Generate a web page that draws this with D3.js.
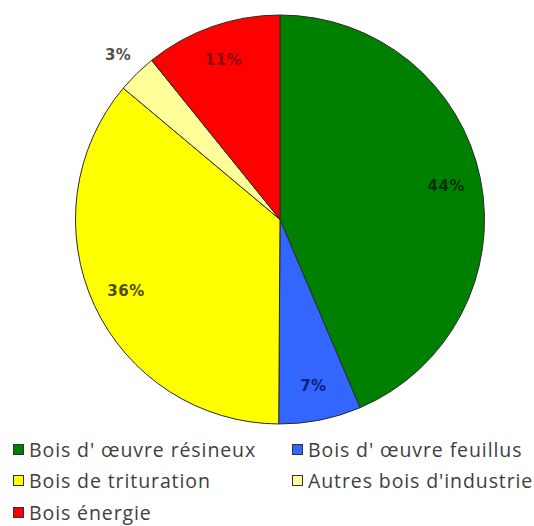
<!DOCTYPE html>
<html><head><meta charset="utf-8">
<script src="https://cdn.jsdelivr.net/npm/d3@7"></script>
<style>body{margin:0;background:#fff}svg{display:block}</style>
</head><body>
<script>
const categories = ["Bois d' œuvre résineux","Bois d' œuvre feuillus","Bois de trituration","Autres bois d'industrie","Bois énergie"];
const values = [43.6, 6.5, 36.0, 3.1, 10.8];
const colors = ["#008000","#3366ff","#ffff00","#ffff99","#ff0000"];
const labelColors = ["#003300","#0a1f80","#4d4d00","#505050","#8a0000"];

const W=534,H=526, cx=280, cy=219.5, R=204.5;
const svg=d3.select("body").append("svg").attr("width",W).attr("height",H);
const pie=d3.pie().sort(null).value(d=>d.v);
const data=categories.map((c,i)=>({c,v:values[i],i}));
const arcs=pie(data);
const arc=d3.arc().innerRadius(0).outerRadius(R);
const g=svg.append("g").attr("transform",`translate(${cx},${cy})`);
g.selectAll("path").data(arcs).join("path").attr("d",arc)
 .attr("fill",d=>colors[d.data.i]).attr("stroke","#2a2a2a").attr("stroke-width",1);
const inner=d3.arc().innerRadius(R*0.83).outerRadius(R*0.83);
const outer=d3.arc().innerRadius(R*1.13).outerRadius(R*1.13);
g.selectAll("text").data(arcs).join("text")
 .attr("transform",d=>`translate(${(d.data.v<5?outer:inner).centroid(d)})`)
 .attr("text-anchor","middle").attr("dy","0.35em")
 .attr("font-family","DejaVu Sans, sans-serif").attr("font-size",15).attr("font-weight","bold")
 .attr("letter-spacing",0.5)
 .attr("fill",d=>labelColors[d.data.i])
 .text(d=>Math.round(d.data.v)+"%");

const legPos=[[13,450],[292,450],[13,481],[292,481],[13,513]];
const lg=svg.append("g");
categories.forEach((c,i)=>{
  const [x,y]=legPos[i];
  lg.append("rect").attr("x",x+0.5).attr("y",y-5.5).attr("width",10).attr("height",10)
    .attr("fill",colors[i]).attr("stroke","#333").attr("stroke-width",1);
  lg.append("text").attr("x",x+16).attr("y",y).attr("dy","0.35em")
    .attr("font-family","Open Sans, sans-serif").attr("font-size",19.5).attr("letter-spacing",0.9)
    .attr("fill","#404040").text(c);
});
</script>
</body></html>
